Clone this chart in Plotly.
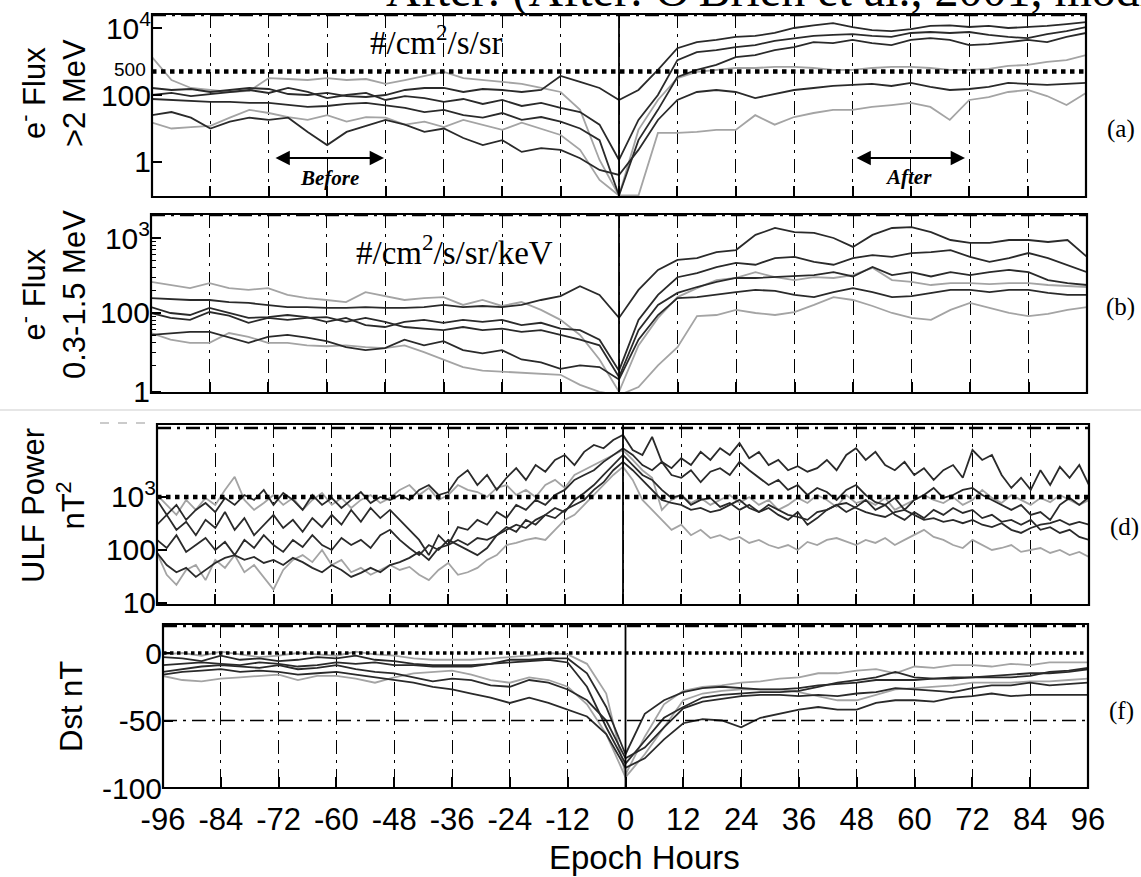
import plotly.graph_objects as go

W, H = 1141, 877


def px(x):
    return x / W


def py(y):
    return 1 - y / H


HOURS4 = list(range(-96, 97, 4))
HOURS2 = list(range(-96, 97, 2))

# ---------------- panel (a): e- flux > 2 MeV (#/cm2/s/sr), 4-hour samples
a_k1 = [162, 141, 151, 123, 141, 162, 151, 107, 100, 115, 93, 87, 100,
        141, 162, 162, 123, 151, 141, 123, 141, 370, 245, 162, 71,
        141, 560, 2500, 3800, 4400, 5400, 5800, 7100, 10000, 12000, 14000, 10700,
        8700, 8100, 9300, 11500, 12000, 10700, 11500, 10000, 10700, 11500, 13000, 15000]
a_k2 = [100, 115, 93, 107, 123, 141, 115, 162, 123, 81, 100, 115, 71,
        93, 81, 62, 76, 54, 71, 47, 58, 41, 31, 13, 1.15,
        18, 100, 1100, 1900, 2200, 2700, 3100, 4100, 5000, 5800, 6200, 6600,
        5800, 5400, 7100, 7600, 7100, 7600, 6200, 5400, 5000, 6600, 8100, 10700]
a_k3 = [76, 71, 66, 62, 62, 58, 58, 50, 44, 47, 54, 58, 50,
        41, 31, 36, 25, 21, 29, 18, 22, 16, 10, 4.5, 0.1,
        4.5, 36, 345, 560, 790, 1350, 1550, 2200, 2700, 3800, 3550, 4400,
        3550, 3100, 4400, 5000, 4400, 3100, 3300, 3800, 4400, 3800, 5400, 7100]
a_k4 = [25, 31, 21, 10, 16, 21, 18, 21, 7.9, 3.2, 7.9, 12, 18,
        13, 7.9, 10, 5.2, 3.2, 4.5, 2.0, 2.6, 2.3, 1.3, 0.58, 0.41,
        2.3, 18, 71, 123, 141, 123, 81, 107, 141, 162, 186, 200,
        215, 186, 230, 174, 141, 151, 174, 230, 215, 200, 215, 230]
a_g1 = [1350, 280, 162, 141, 123, 132, 320, 300, 280, 320, 280, 300, 215,
        280, 370, 490, 320, 280, 245, 215, 162, 123, 36, 1.15, 0.1,
        9.1, 71, 320, 490, 560, 640, 640, 690, 690, 640, 560, 560,
        640, 690, 690, 640, 560, 560, 600, 740, 790, 970, 1100, 1550]
a_g2 = [15, 10, 11, 12, 21, 36, 29, 22, 18, 25, 16, 22, 21,
        13, 16, 11, 18, 13, 9.1, 15, 10, 6.4, 2.3, 0.29, 0.1,
        0.1, 7.4, 7.4, 7.9, 9.1, 9.1, 25, 13, 22, 29, 36, 36,
        44, 50, 58, 44, 18, 71, 87, 123, 141, 93, 50, 115]

# ---------------- panel (b): e- flux 0.3-1.5 MeV (#/cm2/s/sr/keV), 4-hour samples
b_k1 = [158, 154, 149, 149, 140, 136, 128, 120, 120, 117, 117, 120, 117,
        117, 120, 128, 120, 124, 120, 128, 149, 168, 228, 174, 86,
        203, 375, 510, 540, 650, 690, 1100, 1360, 1200, 1170, 1000, 760,
        1100, 1360, 1400, 1200, 940, 860, 860, 940, 940, 885, 940, 560]
b_k2 = [120, 100, 94, 117, 100, 86, 88, 94, 88, 76, 86, 69, 65,
        76, 81, 74, 81, 76, 81, 69, 74, 62, 59, 44, 17,
        81, 174, 300, 340, 410, 465, 440, 540, 560, 480, 440, 540,
        590, 560, 630, 650, 690, 560, 480, 540, 630, 540, 440, 350]
b_k3 = [100, 86, 81, 103, 92, 74, 86, 81, 86, 88, 76, 86, 76,
        65, 62, 59, 65, 59, 62, 56, 59, 51, 44, 37, 14,
        59, 128, 185, 222, 260, 293, 293, 300, 307, 320, 350, 307,
        410, 320, 350, 307, 350, 320, 350, 375, 350, 275, 250, 236]
b_k4 = [51, 54, 56, 56, 47, 40, 48, 51, 47, 42, 35, 32, 34,
        44, 37, 42, 32, 29, 32, 24, 22, 18, 20, 19, 13,
        44, 94, 158, 163, 174, 190, 203, 197, 174, 163, 190, 215,
        190, 163, 168, 185, 203, 203, 190, 203, 203, 185, 174, 174]
b_g1 = [260, 236, 215, 250, 215, 203, 215, 174, 158, 149, 140, 190, 168,
        149, 158, 163, 128, 149, 124, 140, 110, 81, 51, 24, 8.9,
        37, 86, 163, 215, 275, 293, 350, 300, 275, 300, 293, 320,
        400, 275, 260, 236, 250, 250, 243, 250, 250, 236, 229, 222]
b_g2 = [54, 44, 40, 40, 54, 48, 40, 40, 37, 36, 37, 35, 34,
        37, 30, 24, 19, 17, 16.5, 16, 15.5, 15, 11, 8.9, 8,
        10.3, 20, 35, 91, 94, 110, 100, 94, 103, 128, 163, 149,
        124, 100, 86, 81, 110, 136, 117, 100, 91, 97, 110, 120]

# ---------------- panel (d): ULF power (nT^2), 2-hour samples
d_k1 = [880, 460, 710, 370, 570, 770, 520, 960, 710, 1090, 880, 1360, 710, 1190, 880, 570, 1090, 710, 960, 620, 880, 1240, 770, 1000, 880,
        1090, 880, 1360, 1680, 1090, 1240, 2300, 3200, 1680, 2600, 1360, 2300, 3500, 2100, 4000, 3000, 5000, 6200, 4000, 7100, 9600, 8300, 11900, 14800,
        7700, 6200, 13600, 4600, 3500, 5400, 4000, 7100, 5000, 8300, 6200, 10400, 5400, 7100, 4000, 5000, 3200, 3800, 3000, 3500, 5000, 3200, 6200, 8300,
        5000, 7100, 4000, 3200, 4600, 2600, 3500, 2100, 3200, 4000, 2300, 7700, 5000, 6200, 2600, 1480, 2300, 1360, 3200, 1680, 3700, 2300, 4000, 1680]
d_k2 = [300, 460, 240, 340, 190, 370, 260, 520, 240, 400, 190, 300, 460, 260, 370, 220, 400, 270, 460, 300, 570, 340, 620, 400, 570,
        370, 240, 155, 80, 190, 124, 270, 240, 370, 300, 520, 400, 710, 570, 880, 710, 1090, 1360, 2100, 2600, 3200, 4600, 6200, 8300,
        6200, 4000, 3200, 4600, 2600, 2300, 3200, 1900, 3000, 3500, 2600, 4600, 3200, 2300, 1680, 2100, 1360, 1680, 1090, 1480, 1240, 880, 1360, 1680,
        1090, 800, 710, 960, 570, 880, 1090, 1480, 960, 1090, 1360, 1480, 1090, 880, 710, 570, 710, 460, 520, 370, 710, 960, 710, 1000]
d_k3 = [155, 109, 190, 92, 124, 168, 100, 142, 80, 155, 109, 190, 124, 92, 155, 114, 190, 124, 100, 168, 124, 155, 109, 190, 240,
        155, 109, 80, 124, 100, 155, 124, 100, 80, 109, 190, 270, 220, 370, 300, 460, 620, 520, 880, 1190, 1680, 2600, 4000, 6200,
        4000, 2600, 2100, 1360, 960, 1090, 710, 880, 960, 650, 770, 570, 710, 520, 620, 460, 370, 520, 300, 400, 570, 710, 520, 650,
        880, 570, 710, 460, 370, 520, 400, 570, 460, 620, 500, 570, 400, 460, 340, 370, 300, 370, 240, 270, 210, 240, 176, 155]
d_k4 = [88, 52, 38, 46, 31, 42, 57, 71, 80, 65, 74, 57, 65, 52, 71, 59, 46, 38, 52, 42, 31, 37, 46, 38, 52,
        59, 71, 92, 65, 109, 124, 155, 124, 168, 155, 190, 240, 300, 260, 370, 460, 400, 570, 710, 880, 1360, 1900, 3200, 4600,
        3200, 2100, 1360, 880, 770, 710, 570, 620, 520, 570, 710, 880, 620, 520, 710, 570, 460, 420, 370, 520, 570, 710, 770, 620,
        520, 460, 420, 520, 570, 460, 370, 400, 340, 370, 320, 370, 300, 270, 320, 240, 210, 260, 300, 320, 370, 300, 340, 300]
d_g1 = [1090, 710, 460, 880, 570, 960, 710, 1360, 2400, 880, 570, 770, 1090, 710, 960, 570, 880, 1190, 710, 960, 620, 880, 1090, 770, 960,
        1360, 1680, 1090, 1480, 880, 1090, 1680, 1360, 1240, 1000, 1480, 1680, 1090, 1360, 1000, 1680, 2100, 1480, 2600, 3200, 4000, 5000, 6200, 7700,
        5000, 3200, 2300, 570, 880, 1090, 770, 960, 710, 880, 1090, 770, 1000, 710, 880, 570, 710, 960, 770, 1090, 880, 650, 1090, 770,
        880, 710, 960, 570, 710, 880, 1090, 880, 770, 1000, 710, 880, 1360, 960, 770, 1090, 880, 710, 960, 800, 1090, 880, 710, 880]
d_g2 = [88, 34, 22, 42, 52, 27, 65, 46, 80, 38, 52, 30, 18, 42, 65, 80, 59, 100, 52, 65, 38, 46, 34, 42, 52,
        42, 48, 34, 27, 42, 57, 34, 38, 46, 65, 80, 124, 136, 155, 168, 155, 240, 370, 460, 710, 1090, 1680, 2600, 3700,
        2100, 880, 570, 370, 240, 300, 190, 240, 168, 190, 155, 176, 136, 155, 124, 109, 124, 100, 142, 124, 155, 168, 142, 124,
        155, 136, 168, 124, 155, 190, 240, 176, 155, 124, 109, 155, 124, 100, 109, 124, 92, 100, 109, 88, 100, 80, 92, 74]

# ---------------- panel (f): Dst (nT), 4-hour samples
f_k1 = [-3, -4, -6, -2, -5, -4, -6, -5, -3, -4, -2, -5, -6,
        -8, -9, -9, -9, -8, -5, -5, -4, -4, -15, -40, -75,
        -45, -35, -29, -26, -25, -26, -27, -27, -26, -24, -23, -22,
        -20, -20, -20, -19, -18, -18, -17, -16, -15, -15, -14, -12]
f_k2 = [-9, -8, -7, -8, -9, -7, -8, -10, -9, -7, -8, -7, -9,
        -9, -10, -10, -10, -8, -7, -6, -5, -7, -25, -55, -82,
        -65, -48, -40, -33, -31, -30, -29, -29, -28, -25, -22, -20,
        -18, -14, -18, -19, -19, -18, -18, -18, -17, -14, -13, -11]
f_k3 = [-14, -12, -10, -9, -10, -11, -9, -12, -11, -9, -12, -14, -15,
        -18, -21, -19, -20, -24, -25, -20, -22, -27, -35, -50, -78,
        -70, -55, -41, -36, -34, -32, -31, -31, -32, -31, -32, -30,
        -29, -26, -27, -28, -29, -26, -24, -24, -22, -24, -23, -22]
f_k4 = [-16, -14, -13, -12, -14, -13, -14, -16, -15, -14, -16, -18, -20,
        -22, -25, -27, -30, -33, -37, -33, -37, -42, -47, -60, -85,
        -78, -64, -52, -49, -50, -55, -48, -45, -42, -40, -42, -42,
        -37, -35, -35, -36, -33, -32, -30, -32, -31, -31, -31, -31]
f_g1 = [-1, 0, -2, 1, -1, -3, -2, 0, -1, -2, 1, -1, -2,
        -4, -5, -5, -5, -4, -3, -2, 0, -1, -8, -30, -90,
        -62, -38, -28, -25, -24, -22, -21, -19, -18, -15, -15, -13,
        -12, -15, -10, -11, -9, -9, -10, -8, -9, -7, -7, -7]
f_g2 = [-17, -20, -21, -19, -18, -17, -16, -20, -17, -17, -19, -22, -18,
        -15, -14, -13, -16, -20, -22, -18, -20, -25, -38, -60, -92,
        -75, -55, -35, -30, -28, -27, -27, -27, -29, -32, -35, -35,
        -31, -27, -26, -25, -24, -22, -22, -22, -21, -21, -20, -19]

X_TICKS = [-96, -84, -72, -60, -48, -36, -24, -12, 0, 12, 24, 36, 48, 60, 72, 84, 96]

BLACK = '#2a2a2a'
GRAY = '#a4a4a4'
SANS = 'Liberation Sans, Arial, sans-serif'
SERIF = 'Liberation Serif, Times New Roman, serif'
GRIDDASH = '14px,6px,3px,6px'

panels = [
    dict(series=[(a_g1, GRAY), (a_g2, GRAY), (a_k1, BLACK), (a_k2, BLACK), (a_k3, BLACK), (a_k4, BLACK)],
         hours=HOURS4, xpx=(152, 1086), ypx=(14, 197),
         yaxis=dict(type='log', range=[-1.045, 4.418], tickvals=[1, 100, 10000],
                    ticktext=['1', '100', '10<sup>4</sup>'])),
    dict(series=[(b_g1, GRAY), (b_g2, GRAY), (b_k1, BLACK), (b_k2, BLACK), (b_k3, BLACK), (b_k4, BLACK)],
         hours=HOURS4, xpx=(151, 1087), ypx=(214, 393),
         yaxis=dict(type='log', range=[0.933, 3.32], tickvals=[8.9, 100, 1000],
                    ticktext=['1', '100', '10<sup>3</sup>'],
                    minor=dict(ticks='inside', ticklen=5, tickwidth=1.2, tickcolor='black',
                               tickmode='array', showgrid=False,
                               tickvals=[20, 30, 40, 50, 60, 70, 80, 90, 200, 300, 400, 500,
                                         600, 700, 800, 900, 2000]))),
    dict(series=[(d_g1, GRAY), (d_g2, GRAY), (d_k1, BLACK), (d_k2, BLACK), (d_k3, BLACK), (d_k4, BLACK)],
         hours=HOURS2, xpx=(157, 1089), ypx=(424, 605),
         yaxis=dict(type='log', range=[0.962, 4.377], tickvals=[10, 100, 1000],
                    ticktext=['10', '100', '10<sup>3</sup>'])),
    dict(series=[(f_g1, GRAY), (f_g2, GRAY), (f_k1, BLACK), (f_k2, BLACK), (f_k3, BLACK), (f_k4, BLACK)],
         hours=HOURS4, xpx=(163, 1088), ypx=(624, 788),
         yaxis=dict(type='linear', range=[-100, 21.5], tickvals=[-100, -50, 0],
                    ticktext=['-100', '-50', '0'])),
]

fig = go.Figure()
layout = dict(template='none', width=W, height=H, margin=dict(l=0, r=0, t=0, b=0, pad=0),
              paper_bgcolor='white', plot_bgcolor='white', showlegend=False)
shapes = []

for i, p in enumerate(panels):
    n = i + 1
    x_ref = 'x' if n == 1 else f'x{n}'
    y_ref = 'y' if n == 1 else f'y{n}'
    x_name = 'xaxis' if n == 1 else f'xaxis{n}'
    y_name = 'yaxis' if n == 1 else f'yaxis{n}'
    L, R = p['xpx']
    T, B = p['ypx']
    last = (i == len(panels) - 1)

    layout[x_name] = dict(domain=[px(L), px(R)], range=[-96, 96], anchor=y_ref,
                          automargin=False, showgrid=True, gridcolor='black', gridwidth=1.3,
                          griddash=GRIDDASH, zeroline=False, showline=False,
                          ticks='inside', ticklen=11, tickwidth=1.6, tickcolor='black',
                          tickmode='array', tickvals=X_TICKS,
                          ticktext=[str(v) for v in X_TICKS], tickangle=0,
                          showticklabels=last, ticklabelstandoff=10,
                          tickfont=dict(family=SANS, size=31, color='black'))
    ycfg = dict(domain=[py(B), py(T)], anchor=x_ref, automargin=False, showgrid=False,
                zeroline=False, showline=False, ticks='inside', ticklen=10, tickwidth=1.6,
                tickcolor='black', tickmode='array',
                tickfont=dict(family=SANS, size=30, color='black'))
    ycfg.update(p['yaxis'])
    layout[y_name] = ycfg

    hrs = p['hours']
    for vals, col in p['series']:
        fig.add_trace(go.Scatter(x=hrs, y=vals, xaxis=x_ref, yaxis=y_ref, mode='lines',
                                 line=dict(color=col, width=1.8), hoverinfo='skip'))

    # zero-epoch solid line
    shapes.append(dict(type='line', xref=x_ref, yref=f'{y_ref} domain', x0=0, x1=0,
                       y0=0, y1=1, line=dict(color='black', width=1.8)))
    # frame
    shapes.append(dict(type='rect', xref='paper', yref='paper', x0=px(L), x1=px(R),
                       y0=py(B), y1=py(T), line=dict(color='black', width=2.2)))

# reference lines
shapes += [
    dict(type='line', xref='x domain', yref='y', x0=0, x1=1, y0=500, y1=500,
         line=dict(color='black', width=4.5, dash='dot')),
    dict(type='line', xref='x domain', yref='y domain', x0=0, x1=1, y0=0.995, y1=0.995,
         line=dict(color='black', width=2.5, dash=GRIDDASH)),
    dict(type='line', xref='x2 domain', yref='y2 domain', x0=0, x1=1, y0=0.995, y1=0.995,
         line=dict(color='black', width=2.5, dash=GRIDDASH)),
    dict(type='line', xref='x3 domain', yref='y3', x0=0, x1=1, y0=1000, y1=1000,
         line=dict(color='black', width=4.5, dash='dot')),
    dict(type='line', xref='x3 domain', yref='y3', x0=0, x1=1, y0=20000, y1=20000,
         line=dict(color='black', width=2.5, dash=GRIDDASH)),
    dict(type='line', xref='x4 domain', yref='y4', x0=0, x1=1, y0=0, y1=0,
         line=dict(color='black', width=3.5, dash='dot')),
    dict(type='line', xref='x4 domain', yref='y4', x0=0, x1=1, y0=20, y1=20,
         line=dict(color='black', width=2.5, dash=GRIDDASH)),
    dict(type='line', xref='x4 domain', yref='y4', x0=0, x1=1, y0=-50, y1=-50,
         line=dict(color='black', width=1.5, dash=GRIDDASH)),
    # faint scan artefacts
    dict(type='line', xref='paper', yref='paper', x0=0, x1=1, y0=py(410), y1=py(410),
         line=dict(color='#e6e6e6', width=2)),
    dict(type='line', xref='paper', yref='paper', x0=px(100), x1=px(150), y0=py(423), y1=py(423),
         line=dict(color='#bbbbbb', width=1.5, dash='dash')),
]
layout['shapes'] = shapes


def ann(text, x, y, size, family=SANS, xanchor='center', yanchor='middle', angle=0):
    return dict(text=text, x=px(x), y=py(y), xref='paper', yref='paper', showarrow=False,
                xanchor=xanchor, yanchor=yanchor, textangle=angle,
                font=dict(family=family, size=size, color='black'))


annotations = [
    ann("After: (After: O'Brien et al., 2001, modified)", 384, -10, 48, SERIF, xanchor='left'),
    ann('#/cm<sup>2</sup>/s/sr', 436, 40, 33, SERIF),
    ann('#/cm<sup>2</sup>/s/sr/keV', 455, 250, 33, SERIF),
    ann('(a)', 1121, 129, 25, SERIF),
    ann('(b)', 1120, 307, 25, SERIF),
    ann('(d)', 1124, 527, 25, SERIF),
    ann('(f)', 1121, 711, 25, SERIF),
    ann('500', 148, 70, 19, SANS, xanchor='right'),
    ann('e<sup>-</sup> Flux<br>&gt;2 MeV', 52, 93, 31, angle=-90),
    ann('e<sup>-</sup> Flux<br>0.3-1.5 MeV', 52, 295, 31, angle=-90),
    ann('ULF Power<br>nT<sup>2</sup>', 54, 506, 31, angle=-90),
    ann('Dst nT', 71, 707, 31, angle=-90),
    ann('Epoch Hours', 644, 857, 33, SANS),
    ann('<b><i>Before</i></b>', 329, 178, 21, SERIF),
    ann('<b><i>After</i></b>', 908, 177, 21, SERIF),
    dict(text='', x=px(384), y=py(158), xref='paper', yref='paper', ax=-110, ay=0,
         showarrow=True, arrowside='end+start', arrowhead=2, arrowsize=1.3,
         arrowwidth=2.2, arrowcolor='black'),
    dict(text='', x=px(965), y=py(158), xref='paper', yref='paper', ax=-110, ay=0,
         showarrow=True, arrowside='end+start', arrowhead=2, arrowsize=1.3,
         arrowwidth=2.2, arrowcolor='black'),
]
layout['annotations'] = annotations

fig.update_layout(**layout)
fig.write_html('out.html')
